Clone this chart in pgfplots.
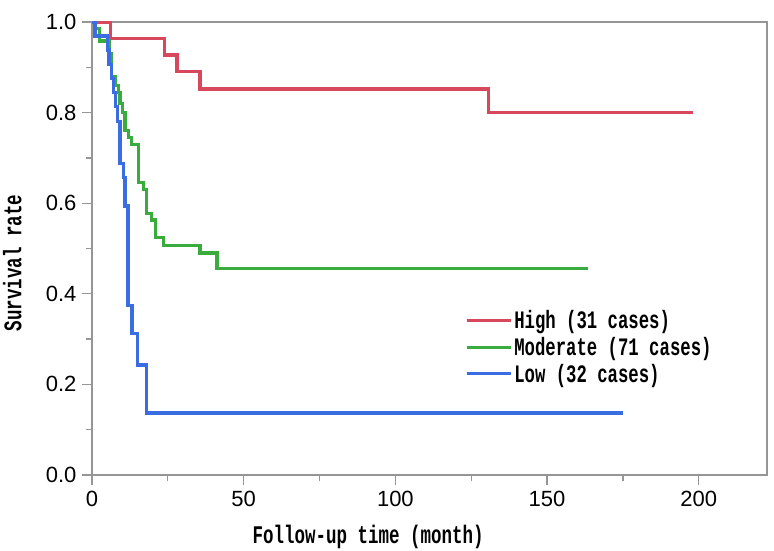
\documentclass[border=0pt]{standalone}
\usepackage{pgfplots}
\pgfplotsset{compat=1.18}
\usepackage{fontspec}
\setmainfont{Liberation Sans}
\newfontfamily\monof{Liberation Mono}
\definecolor{cred}{RGB}{216,72,92}
\definecolor{cgreen}{RGB}{58,172,62}
\definecolor{cblue}{RGB}{58,108,226}
\definecolor{cax}{RGB}{150,150,150}
\newcommand{\tall}[1]{\scalebox{1}[1.45]{#1}}

\pgfplotstableread{
x y
0 1
6 0.963
23.8 0.927
28 0.890
35.6 0.852
130.7 0.800
198 0.800
}\highdata

\pgfplotstableread{
x y
0 1
1 0.986
2.6 0.958
5.7 0.930
6.5 0.880
7.6 0.860
8.7 0.845
9.2 0.820
10.1 0.800
10.9 0.760
12 0.745
13.1 0.730
15.3 0.645
16.9 0.630
18 0.577
19.7 0.563
20.8 0.525
23.5 0.507
35.6 0.490
41.2 0.455
163.5 0.455
}\moddata

\pgfplotstableread{
x y
0 1
1 0.969
5 0.938
5.6 0.906
6.5 0.875
7.2 0.844
7.8 0.813
8.5 0.781
9.2 0.688
10.3 0.656
10.9 0.594
11.9 0.375
13.2 0.313
14.9 0.243
18 0.137
175 0.137
}\lowdata

\begin{document}
\begin{tikzpicture}
\begin{axis}[
  scale only axis, width=675pt, height=453pt,
  xmin=0, xmax=222.5, ymin=0, ymax=1,
  xtick={0,50,100,150,200}, ytick={0,0.2,0.4,0.6,0.8,1},
  minor x tick num=1, minor y tick num=1,
  xtick pos=left, ytick pos=left,
  tick align=outside, major tick length=10pt, minor tick length=6pt,
  axis line style={draw=cax, line width=1.3pt},
  tick style={draw=cax, line width=1.3pt},
  tick label style={font=\fontsize{22}{22}\selectfont},
  xticklabel shift=3pt,
  yticklabel shift=2pt,
  yticklabel style={/pgf/number format/.cd, fixed, fixed zerofill, precision=1},
  /pgf/number format/assume math mode=true,
  xlabel={\tall{Follow-up time (month)}},
  ylabel={\tall{Survival rate}},
  xlabel style={font=\monof\bfseries\fontsize{17.5}{17.5}\selectfont, at={(axis description cs:0.409,-0.137)}, anchor=center},
  ylabel style={font=\monof\bfseries\fontsize{17.5}{17.5}\selectfont, at={(axis description cs:-0.118,0.468)}, anchor=center},
  legend style={draw=none, fill=none, at={(axis description cs:0.548,0.372)}, anchor=north west,
    font=\monof\bfseries\fontsize{17.3}{17.3}\selectfont, row sep=3pt},
  legend cell align=left,
  legend image code/.code={\draw[#1, line width=3.2pt] (0pt,0pt) -- (36pt,0pt); \path (0pt,0pt) -- (44pt,0pt);},
]
\addplot[cred, const plot, line width=3.2pt] table[x=x,y=y] {\highdata};
\addlegendentry{\tall{High (31 cases)}}
\addplot[cgreen, const plot, line width=3.2pt] table[x=x,y=y] {\moddata};
\addlegendentry{\tall{Moderate (71 cases)}}
\addplot[cblue, const plot, line width=3.2pt] table[x=x,y=y] {\lowdata};
\addlegendentry{\tall{Low (32 cases)}}
\coordinate (sw) at (rel axis cs:0,0);
\coordinate (ne) at (rel axis cs:1,1);
\end{axis}
\pgfresetboundingbox
\path[use as bounding box] ([xshift=-92pt,yshift=-76pt]sw) rectangle ([xshift=7pt,yshift=22pt]ne);
\end{tikzpicture}
\end{document}
